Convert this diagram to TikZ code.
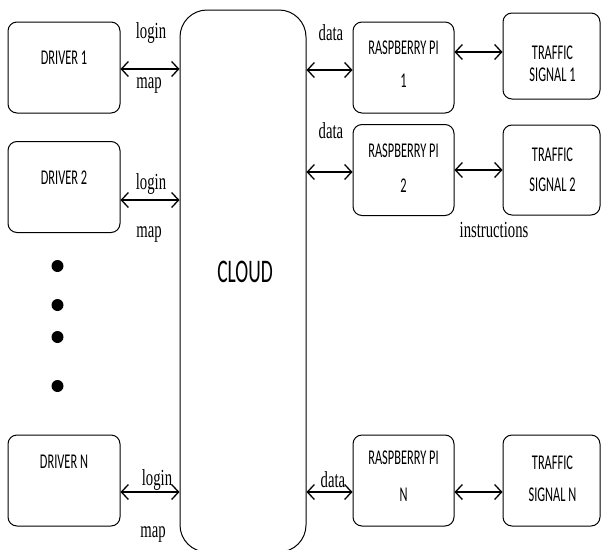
\documentclass[tikz,border=0pt]{standalone}
\usepackage{fontspec}
\usetikzlibrary{arrows.meta,calc}
\newfontfamily\boxfont{Carlito}[FakeStretch=0.59]
\newfontfamily\labfont{Liberation Serif}[FakeStretch=0.64]
\begin{document}
\begin{tikzpicture}[x=1pt,y=-1pt,line join=round,
        >={Straight Barb[length=7pt,width=15pt]},
        box/.style={draw,rounded corners=9pt,line width=1pt,minimum width=112pt,minimum height=91pt,inner sep=0pt},
        pibox/.style={box,minimum width=101pt},
        sigbox/.style={box,minimum width=97pt},
        txt/.style={anchor=base,inner sep=0pt,font=\boxfont\fontsize{21}{21}\selectfont},
        lab/.style={anchor=base,inner sep=0pt,font=\labfont\fontsize{23}{23}\selectfont},
        link/.style={<->,line width=1.3pt}]
        \useasboundingbox (0,0) rectangle (602,549);
        % cloud in the middle
        \node[draw,line width=1pt,rounded corners=27pt,minimum width=126pt,minimum height=542pt,inner sep=0pt] (cloud) at (243,281) {};
        \node[anchor=base,inner sep=0pt,font=\boxfont\fontsize{33}{33}\selectfont] (cloudtxt) at (245,282) {CLOUD};
        % drivers
        \node[box] (d1) at (64,67.5) {};
        \node[box] (d2) at (64,187) {};
        \node[box] (dn) at (64,480.5) {};
        \node[txt] (d1txt) at ($(d1.north)+(0,43)$) {DRIVER 1};
        \node[txt] (d2txt) at ($(d2.north)+(0,43)$) {DRIVER 2};
        \node[txt] (dntxt) at ($(dn.north)+(0,34)$) {DRIVER N};
        \foreach \y [count=\i] in {266,305,337,386}
            \fill (57.5,\y) circle (6pt) coordinate (dot\i);
        % raspberry pi boxes
        \node[pibox] (r1) at (403.5,67.5) {};
        \node[pibox] (r2) at (403.5,170) {};
        \node[pibox] (rn) at (403.5,480.5) {};
        \node[txt] (r1a) at ($(r1.north)+(0,33)$) {RASPBERRY PI};
        \node[txt] (r1b) at ($(r1.north)+(0,66)$) {1};
        \node[txt] (r2a) at ($(r2.north)+(0,33)$) {RASPBERRY PI};
        \node[txt] (r2b) at ($(r2.north)+(0,68)$) {2};
        \node[txt] (rna) at ($(rn.north)+(0,30)$) {RASPBERRY PI};
        \node[txt] (rnb) at ($(rn.north)+(0,67)$) {N};
        % traffic signals
        \node[sigbox,minimum height=86pt] (t1) at (551.5,56) {};
        \node[sigbox,minimum height=90pt] (t2) at (551.5,170) {};
        \node[sigbox] (tn) at (551.5,480.5) {};
        \node[txt] (t1a) at ($(t1.north)+(1,47)$) {TRAFFIC};
        \node[txt] (t1b) at ($(t1.north)+(1,69)$) {SIGNAL 1};
        \node[txt] (t2a) at ($(t2.north)+(1,37)$) {TRAFFIC};
        \node[txt] (t2b) at ($(t2.north)+(1,67)$) {SIGNAL 2};
        \node[txt] (tna) at ($(tn.north)+(1,35)$) {TRAFFIC};
        \node[txt] (tnb) at ($(tn.north)+(1,67)$) {SIGNAL N};
        % connectors
        \coordinate (a1) at ($(d1.east)+(0,1.5)$);
        \coordinate (a2) at ($(d2.east)+(0,13)$);
        \coordinate (an) at ($(dn.east)+(0,11.5)$);
        \draw[link] (a1) -- (a1 -| cloud.west);
        \draw[link] (a2) -- (a2 -| cloud.west);
        \draw[link] (an) -- (an -| cloud.west);
        \coordinate (b1) at ($(r1.west)+(0,2.5)$);
        \coordinate (b2) at ($(r2.west)+(0,2)$);
        \coordinate (bn) at ($(rn.west)+(0,11.5)$);
        \draw[link] (b1 -| cloud.east) -- (b1);
        \draw[link] (b2 -| cloud.east) -- (b2);
        \draw[link] (bn -| cloud.east) -- (bn);
        \coordinate (c1) at ($(t1.west)+(0,-4)$);
        \coordinate (cn) at ($(tn.west)+(0,11.5)$);
        \draw[link] (c1 -| r1.east) -- (c1);
        \draw[link] (r2.east |- t2.west) -- (t2.west);
        \draw[link] (cn -| rn.east) -- (cn);
        % labels
        \node[lab] (login1) at (151,38) {login};
        \node[lab] (map1) at (149,88) {map};
        \node[lab] (login2) at (151,189) {login};
        \node[lab] (map2) at (149,237) {map};
        \node[lab] (loginn) at (157,485) {login};
        \node[lab] (mapn) at (153,537) {map};
        \node[lab] (data1) at (331,40) {data};
        \node[lab] (data2) at (331,138) {data};
        \node[lab] (datan) at (333,487) {data};
        \node[lab] (instr) at (494,237) {instructions};
    \end{tikzpicture}
\end{document}
